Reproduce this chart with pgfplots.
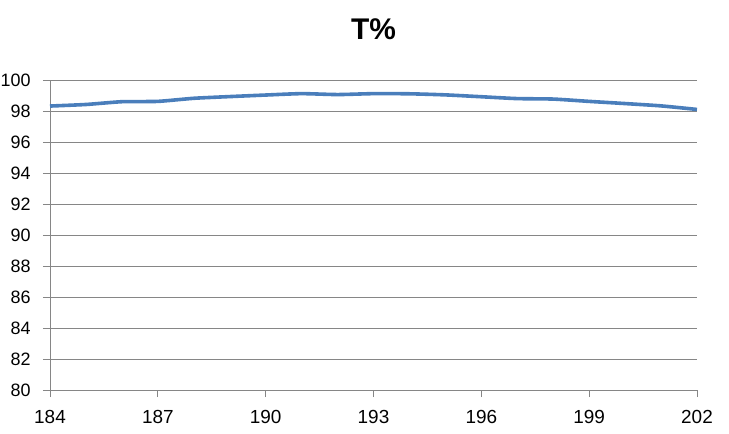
\documentclass[border=0pt]{standalone}
\usepackage{pgfplots}
\pgfplotsset{compat=1.18}
\usepackage{fontspec}
\setmainfont{Liberation Sans}
\definecolor{linecol}{HTML}{4A7EBB}
\definecolor{gridcol}{HTML}{868686}
\begin{document}
\begin{tikzpicture}
\useasboundingbox (-50bp,-44bp) rectangle (679bp,390bp);
\begin{axis}[
  anchor=south west, at={(0,0)},
  scale only axis, width=647bp, height=310bp,
  xmin=184, xmax=202, ymin=80, ymax=100,
  xtick={184,187,190,193,196,199,202},
  ytick={80,82,...,100},
  /pgf/number format/assume math mode=true,
  /pgf/number format/1000 sep={},
  axis x line*=bottom, axis y line*=left,
  axis line style={gridcol, line width=0.9bp, -},
  tick align=outside, major tick length=7bp,
  tick style={gridcol, line width=0.9bp},
  ymajorgrids, grid style={gridcol, line width=0.9bp},
  yticklabel style={font=\fontsize{18}{20}\selectfont, text=black, xshift=-9bp},
  xticklabel style={font=\fontsize{19}{21}\selectfont, text=black, yshift=-10bp},
  title={T\%},
  title style={font=\fontsize{30}{34}\bfseries\selectfont, at={(axis description cs:0.5,1)}, anchor=base, yshift=35bp},
  clip=false,
]
\addplot[linecol, line width=3.6bp, smooth, tension=0.35] coordinates {
(184,98.32) (185,98.42) (186,98.6) (187,98.62) (188,98.82) (189,98.93)
(190,99.03) (191,99.12) (192,99.06) (193,99.12) (194,99.11) (195,99.04)
(196,98.92) (197,98.8) (198,98.77) (199,98.62) (200,98.48) (201,98.33) (202,98.1)
};
\end{axis}
\end{tikzpicture}
\end{document}
